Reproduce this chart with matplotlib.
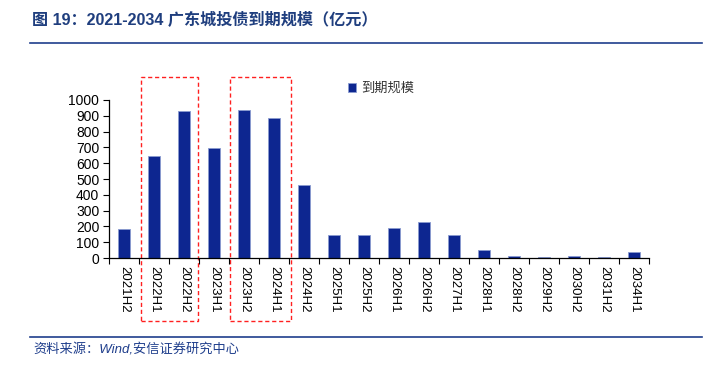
import matplotlib
matplotlib.use('Agg')
import matplotlib.pyplot as plt
import matplotlib.transforms as mtransforms
from matplotlib.patches import Rectangle
from matplotlib.lines import Line2D

plt.rcParams['font.family'] = ['Liberation Sans', 'Noto Sans CJK SC', 'DejaVu Sans']

periods = ['2021H2', '2022H1', '2022H2', '2023H1', '2023H2', '2024H1', '2024H2',
           '2025H1', '2025H2', '2026H1', '2026H2', '2027H1', '2028H1', '2028H2',
           '2029H2', '2030H2', '2031H2', '2034H1']
maturity = [181, 646, 930, 695, 937, 884, 463, 145, 145, 187, 227, 145, 53,
            15, 8, 15, 8, 38]

bar_color = '#0D2690'
title_color = '#1F3E7E'

fig = plt.figure(figsize=(7.23, 3.69), dpi=100)
ax = fig.add_axes([0.1508, 0.3008, 0.7469, 0.4282])

x = list(range(len(periods)))
ax.bar(x, maturity, width=0.38, color=bar_color, edgecolor='#8A9BD0',
       linewidth=0.6, label='到期规模')

ax.set_xlim(-0.5, len(periods) - 0.5)
ax.set_ylim(0, 1000)
ax.set_yticks(range(0, 1001, 100))
ax.tick_params(axis='y', direction='out', length=4, width=0.8, labelsize=10, pad=3)

# category labels in the middle, tick marks between categories
ax.set_xticks(x)
ax.set_xticklabels(periods, rotation=270, fontsize=9.5)
ax.tick_params(axis='x', which='major', length=0, pad=6)
ax.set_xticks([i - 0.5 for i in range(len(periods) + 1)], minor=True)
ax.tick_params(axis='x', which='minor', direction='out', length=4, width=0.8)

for s in ['top', 'right']:
    ax.spines[s].set_visible(False)
for s in ['left', 'bottom']:
    ax.spines[s].set_linewidth(0.9)

ax.legend(loc='center left', bbox_to_anchor=(336 / 723, 1 - 89 / 369),
          bbox_transform=fig.transFigure, frameon=False, fontsize=9.5,
          handlelength=0.6, handleheight=0.6, handletextpad=0.4,
          labelcolor='#333333')

# red dashed highlight boxes
trans = mtransforms.blended_transform_factory(ax.transData, fig.transFigure)
for x0, x1 in [(0.55, 2.48), (3.53, 5.55)]:
    ax.add_patch(Rectangle((x0, 1 - 321 / 369), x1 - x0, (321 - 77) / 369,
                           transform=trans, fill=False, edgecolor='#FF2020',
                           linestyle=(0, (3, 2)), linewidth=1.0, clip_on=False))

# title and rules
fig.text(32 / 723, 1 - 20 / 369, '图 19：2021-2034 广东城投债到期规模（亿元）',
         fontsize=11.6, fontweight='bold', color=title_color, va='center', ha='left')
fig.add_artist(Line2D([30 / 723, 702 / 723], [1 - 43 / 369, 1 - 43 / 369],
                      color='#1F3E8C', linewidth=1.2))
fig.add_artist(Line2D([30 / 723, 702 / 723], [1 - 337 / 369, 1 - 337 / 369],
                      color='#1F3E8C', linewidth=1.2))
fig.text(33 / 723, 1 - 350 / 369, '资料来源：Wind,安信证券研究中心',
         fontsize=9.5, fontstyle='italic', color='#1F3E8C', va='center', ha='left')

fig.savefig('out.png', dpi=100)
